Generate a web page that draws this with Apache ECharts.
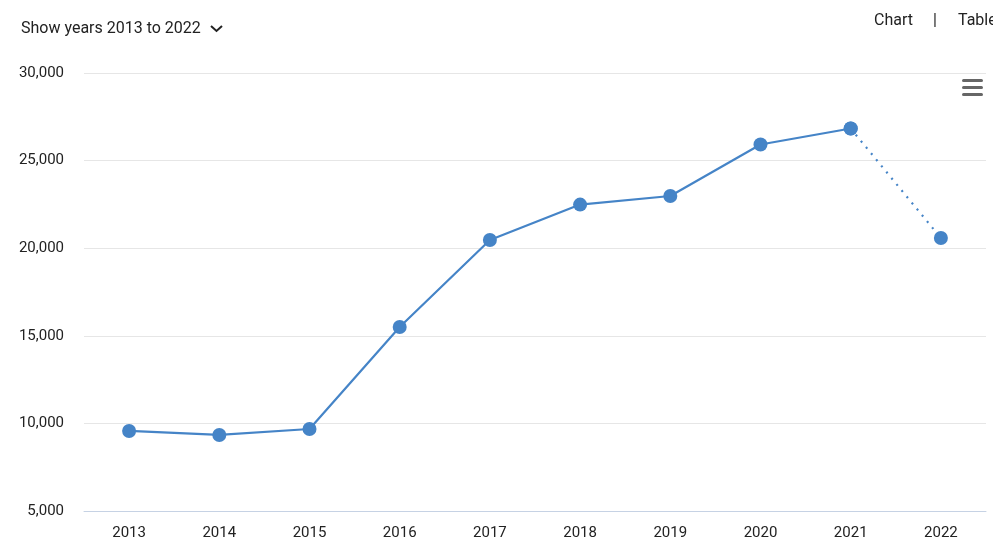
<!DOCTYPE html>
<html>
<head>
<meta charset="utf-8">
<script src="https://cdn.jsdelivr.net/npm/echarts@6/dist/echarts.min.js"></script>
<style>
  html, body { margin: 0; padding: 0; background: #fff; }
  #chart { width: 993px; height: 554px; }
</style>
</head>
<body>
<div id="chart"></div>
<script>
// data
var years = ['2013', '2014', '2015', '2016', '2017', '2018', '2019', '2020', '2021', '2022'];
var values = [9570, 9340, 9680, 15500, 20470, 22490, 22980, 25920, 26830, 20580];
var yTicks = [5000, 10000, 15000, 20000, 25000, 30000];

// solid part up to 2021, dotted last segment 2021 -> 2022
var solid = values.map(function (v, i) { return i <= 8 ? v : null; });
var dotted = values.map(function (v, i) { return i >= 8 ? v : null; });

var myChart = echarts.init(document.getElementById('chart'));
var blue = '#4584c7';

var option = {
    animation: false,
    textStyle: { fontFamily: 'Roboto' },
    grid: { left: 84, right: 7, top: 73, bottom: 43 },
    xAxis: {
        type: 'category',
        data: years,
        boundaryGap: true,
        axisTick: { show: false },
        axisLine: { lineStyle: { color: '#c6d2e4', width: 1 } },
        axisLabel: { color: '#222', fontSize: 15, margin: 15 }
    },
    yAxis: {
        type: 'value',
        min: yTicks[0],
        max: yTicks[yTicks.length - 1],
        interval: 5000,
        axisLine: { show: false },
        axisTick: { show: false },
        axisLabel: {
            color: '#222', fontSize: 15, margin: 20, padding: [3, 0, 0, 0],
            formatter: function (v) { return v.toLocaleString('en-US'); }
        },
        splitLine: { lineStyle: { color: '#e6e6e6', width: 1 } }
    },
    series: [
        {
            type: 'line',
            data: solid,
            symbol: 'circle',
            symbolSize: 14,
            lineStyle: { color: blue, width: 2.2 },
            itemStyle: { color: blue }
        },
        {
            type: 'line',
            data: dotted,
            symbol: 'circle',
            symbolSize: 14,
            lineStyle: { color: blue, width: 2.2, type: [2, 6] },
            itemStyle: { color: blue }
        }
    ],
    graphic: [
        {
            type: 'text', left: 21, top: 21,
            style: { text: 'Show years 2013 to 2022', font: '16px Roboto', fill: '#222' }
        },
        {
            type: 'polyline', shape: { points: [[211, 26], [216.5, 31], [222, 26]] },
            style: { stroke: '#222', lineWidth: 2, fill: null }
        },
        {
            type: 'text', left: 874, top: 13,
            style: { text: 'Chart', font: '16px Roboto', fill: '#222' }
        },
        {
            type: 'text', left: 933, top: 13,
            style: { text: '|', font: '16px Roboto', fill: '#222' }
        },
        {
            type: 'text', left: 958, top: 13,
            style: { text: 'Table', font: '16px Roboto', fill: '#222' }
        },
        { type: 'rect', shape: { x: 962, y: 79, width: 21, height: 3, r: 1.5 }, style: { fill: '#666' } },
        { type: 'rect', shape: { x: 962, y: 86, width: 21, height: 3, r: 1.5 }, style: { fill: '#666' } },
        { type: 'rect', shape: { x: 962, y: 93, width: 21, height: 3, r: 1.5 }, style: { fill: '#666' } }
    ]
};

myChart.setOption(option);
</script>
</body>
</html>
